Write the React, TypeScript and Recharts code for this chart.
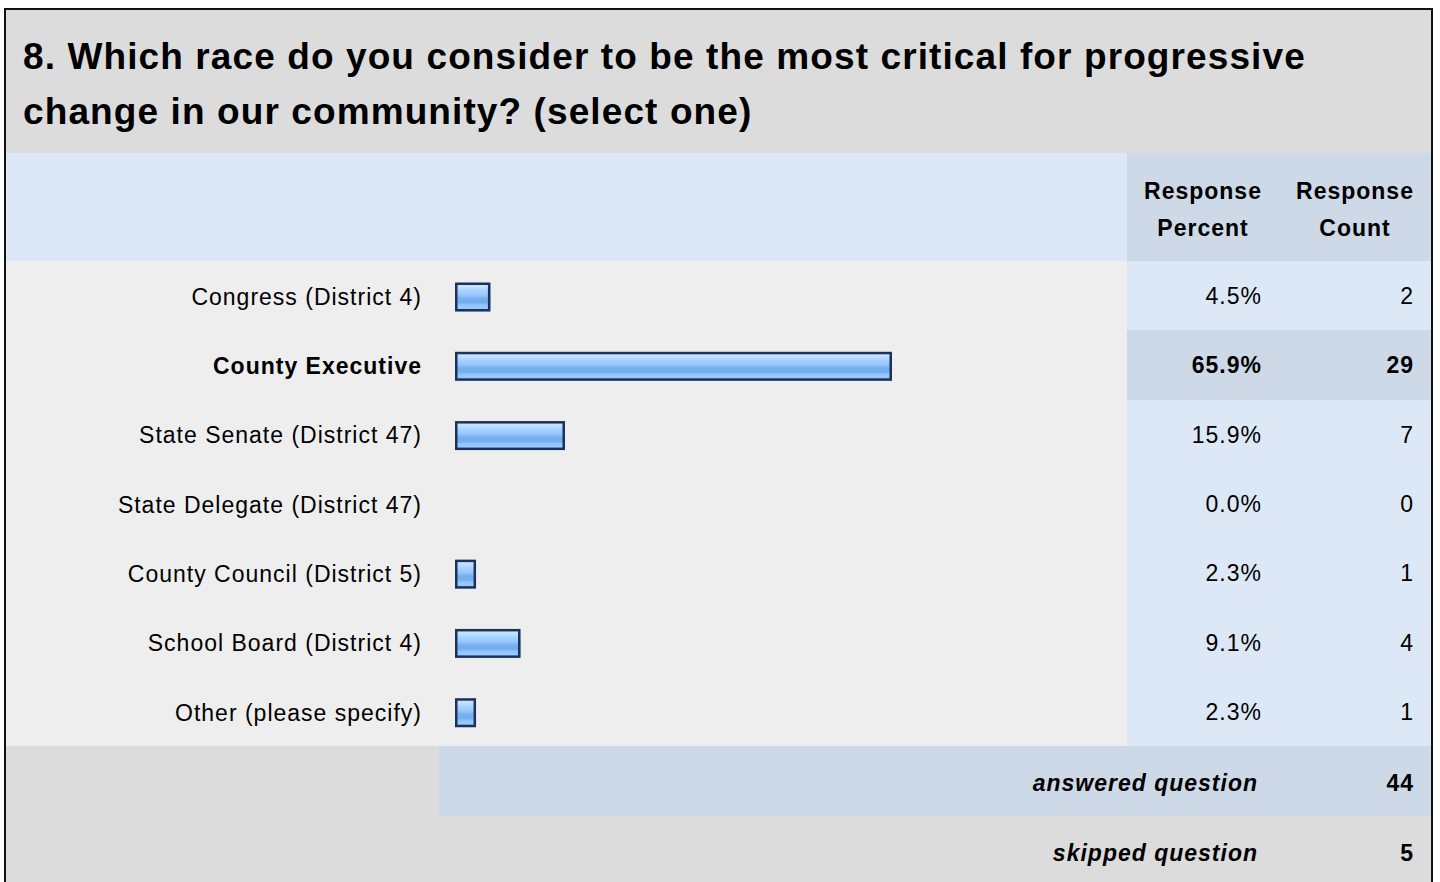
import { BarChart, Bar, XAxis, YAxis } from "recharts";

const titleLines = [
  "8. Which race do you consider to be the most critical for progressive",
  "change in our community? (select one)",
];
const categories = [
  "Congress (District 4)",
  "County Executive",
  "State Senate (District 47)",
  "State Delegate (District 47)",
  "County Council (District 5)",
  "School Board (District 4)",
  "Other (please specify)",
];
const percents = [4.5, 65.9, 15.9, 0.0, 2.3, 9.1, 2.3];
const counts = [2, 29, 7, 0, 1, 4, 1];
const answeredCount = 44;
const skippedCount = 5;

const FONT = '"Liberation Sans", Arial, Helvetica, sans-serif';
const SPACING = "1px";

// page geometry (outer box starts at x=4, y=8)
const BOX_W = 1429;
const TITLE_H = 143;
const HEADER_H = 108;
const ROWS_H = 485;
const LEFT_W = 1121; // label + bar area
const COL_W = 152;
const SUMMARY_H = 70;

const rowH = ROWS_H / categories.length;
const topIdx = percents.indexOf(Math.max(...percents));

const data = categories.map((label, i) => ({
  label,
  percent: percents[i],
  count: counts[i],
}));

const BarShape = (props: any) => {
  const { x, y, width, height, value } = props;
  const v = Array.isArray(value) ? value[1] - value[0] : value;
  if (!v || v <= 0) return null;
  const w = width + 6;
  const top = y + 1.5;
  return (
    <g>
      <rect x={x} y={top} width={w} height={height} fill="url(#barGrad)" />
      <rect
        x={x + 1.25}
        y={top + 1.25}
        width={w - 2.5}
        height={height - 2.5}
        fill="none"
        stroke="#1b3358"
        strokeWidth={2.5}
      />
    </g>
  );
};

const LabelTick = (props: any) => {
  const { y, payload, index } = props;
  return (
    <text
      x={416}
      y={y + 1}
      dy="0.36em"
      textAnchor="end"
      fontFamily={FONT}
      fontSize={23}
      letterSpacing={SPACING}
      fontWeight={index === topIdx ? 700 : 400}
      fill="#000"
    >
      {payload.value}
    </text>
  );
};

const cellText: React.CSSProperties = {
  fontFamily: FONT,
  fontSize: 23,
  letterSpacing: SPACING,
  color: "#000",
};

export default function App() {
  return (
    <div
      style={{
        position: "absolute",
        left: 4,
        top: 8,
        width: BOX_W,
        border: "2px solid #111",
        boxSizing: "border-box",
        background: "#dcdcdc",
      }}
    >
      {/* title */}
      <div
        style={{
          height: TITLE_H,
          background: "#dcdcdc",
          paddingTop: 19,
          paddingLeft: 17,
          boxSizing: "border-box",
          fontFamily: FONT,
          fontWeight: 700,
          fontSize: 37,
          lineHeight: "55px",
          letterSpacing: "1.1px",
          whiteSpace: "nowrap",
        }}
      >
        {titleLines.map((t) => (
          <div key={t}>{t}</div>
        ))}
      </div>

      {/* header */}
      <div style={{ display: "flex", height: HEADER_H, background: "#dce8f5" }}>
        <div style={{ width: LEFT_W }} />
        {[["Response", "Percent"], ["Response", "Count"]].map((h, i) => (
          <div
            key={i}
            style={{
              ...cellText,
              width: COL_W,
              background: "#cdd9e6",
              fontWeight: 700,
              textAlign: "center",
              lineHeight: "37px",
              paddingTop: 20,
              boxSizing: "border-box",
            }}
          >
            {h[0]}
            <br />
            {h[1]}
          </div>
        ))}
      </div>

      {/* rows */}
      <div style={{ position: "relative", height: ROWS_H, background: "#eeeeee" }}>
        <div style={{ position: "absolute", left: 0, top: 0 }}>
          <BarChart
            width={LEFT_W}
            height={ROWS_H}
            data={data}
            layout="vertical"
            margin={{ top: 0, right: 18, bottom: 0, left: 0 }}
            barCategoryGap={0}
          >
            <defs>
              <linearGradient id="barGrad" x1="0" y1="0" x2="0" y2="1">
                <stop offset="0%" stopColor="#d6ebff" />
                <stop offset="14%" stopColor="#c6e2ff" />
                <stop offset="28%" stopColor="#a9d3ff" />
                <stop offset="45%" stopColor="#92c5ff" />
                <stop offset="56%" stopColor="#76afed" />
                <stop offset="70%" stopColor="#74aeec" />
                <stop offset="78%" stopColor="#92c5ff" />
                <stop offset="100%" stopColor="#a3cdfc" />
              </linearGradient>
            </defs>
            <XAxis type="number" domain={[0, 100]} hide />
            <YAxis
              type="category"
              dataKey="label"
              width={449}
              axisLine={false}
              tickLine={false}
              interval={0}
              tick={<LabelTick />}
            />
            <Bar
              dataKey="percent"
              barSize={29}
              shape={<BarShape />}
              isAnimationActive={false}
            />
          </BarChart>
        </div>
        <div style={{ position: "absolute", left: LEFT_W, top: 0 }}>
          {data.map((d, i) => (
            <div key={d.label} style={{ display: "flex", height: rowH }}>
              {[`${d.percent.toFixed(1)}%`, String(d.count)].map((v, j) => (
                <div
                  key={j}
                  style={{
                    ...cellText,
                    width: COL_W,
                    background: i === topIdx ? "#cdd9e6" : "#dce8f5",
                    fontWeight: i === topIdx ? 700 : 400,
                    display: "flex",
                    alignItems: "center",
                    justifyContent: "flex-end",
                    paddingRight: 17,
                    paddingTop: 2,
                    boxSizing: "border-box",
                  }}
                >
                  {v}
                </div>
              ))}
            </div>
          ))}
        </div>
      </div>

      {/* summary */}
      {[
        ["answered question", answeredCount, "#cdd9e6"],
        ["skipped question", skippedCount, "#dcdcdc"],
      ].map(([label, n, bg]) => (
        <div
          key={label as string}
          style={{ display: "flex", height: SUMMARY_H, background: "#dcdcdc" }}
        >
          <div style={{ width: 433 }} />
          <div
            style={{
              ...cellText,
              flex: 1,
              display: "flex",
              alignItems: "center",
              paddingTop: 4,
              boxSizing: "border-box",
              background: bg as string,
              fontWeight: 700,
            }}
          >
            <div
              style={{
                flex: 1,
                textAlign: "right",
                fontStyle: "italic",
                paddingRight: 21,
              }}
            >
              {label}
            </div>
            <div style={{ width: COL_W, textAlign: "right", paddingRight: 17, boxSizing: "border-box" }}>
              {n}
            </div>
          </div>
        </div>
      ))}
    </div>
  );
}
